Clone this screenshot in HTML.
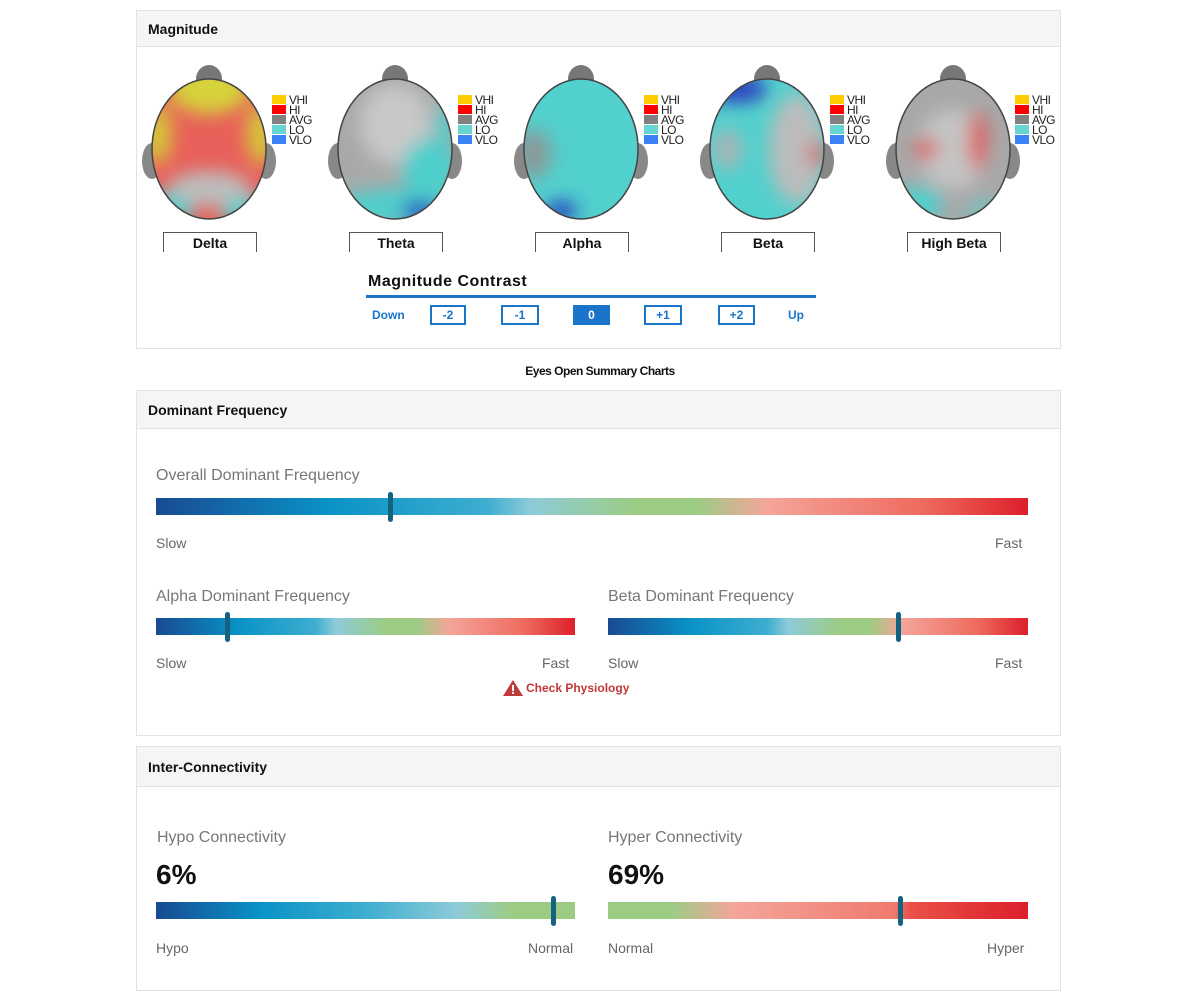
<!DOCTYPE html>
<html><head><meta charset="utf-8"><style>
body{margin:0;width:1200px;height:1000px;background:#fff;font-family:"Liberation Sans",sans-serif;position:relative;overflow:hidden}
.a{position:absolute}
.panel{position:absolute;left:136px;width:923px;border:1px solid #dfe3e6;background:#fff}
.hd{position:absolute;left:0;top:0;right:0;background:#f3f5f6;border-bottom:1px solid #dfe3e6;font-weight:bold;font-size:14px;color:#111;padding-left:11px;box-sizing:border-box}
.lbl{position:absolute;font-size:16px;color:#777}
.sm{position:absolute;font-size:14px;color:#666}
.bar{position:absolute;height:17px}
.g1{background:linear-gradient(90deg,#194a92 0%,#0993c6 20%,#3eaed0 38%,#8ecbd8 43%,#9ccc84 55%,#9ccc84 62%,#f4a59a 70%,#ef6a5e 88%,#dc1f2b 100%)}
.mk{position:absolute;width:5px;height:30px;background:#13627f;border-radius:3px}
.btn{position:absolute;top:305px;height:16px;border:2px solid #1a74c9;color:#1a74c9;font-size:12px;font-weight:bold;text-align:center;line-height:16px}
.hl{position:absolute;top:232px;height:19px;border:1px solid #555;border-bottom:none;font-weight:bold;font-size:14px;text-align:center;line-height:20px;color:#111}
.leg{position:absolute;font-size:12px;line-height:10px;color:#222;letter-spacing:-0.5px}
.leg div{height:10px;position:relative;padding-left:17px}
.leg span{position:absolute;left:0;top:0;width:14px;height:9px}
</style></head><body>
<div class="panel" style="top:10px;height:337px">
<div class="hd" style="height:36px;line-height:36px">Magnitude</div>
</div>
<svg class="a" style="left:0;top:0" width="1200" height="260">
<defs>
<filter id="b" x="-50%" y="-50%" width="200%" height="200%"><feGaussianBlur stdDeviation="9"/></filter>
<clipPath id="hc"><ellipse cx="0" cy="0" rx="57" ry="70"/></clipPath>
<g id="base"><ellipse cx="0" cy="-70" rx="13" ry="14" fill="#777"/><ellipse cx="-57" cy="12" rx="10" ry="18" fill="#888"/><ellipse cx="57" cy="12" rx="10" ry="18" fill="#888"/></g>
</defs>
<g transform="translate(209,149)"><use href="#base"/><g clip-path="url(#hc)"><rect x="-70" y="-80" width="140" height="160" fill="#e8605a"/><g filter="url(#b)"><ellipse cx="0" cy="-60" rx="40" ry="25" fill="#d6d33a"/><ellipse cx="-52" cy="-15" rx="15" ry="30" fill="#d6c53a"/><ellipse cx="52" cy="-15" rx="15" ry="30" fill="#d6c53a"/><ellipse cx="0" cy="40" rx="42" ry="18" fill="#bdbdbd"/><ellipse cx="-42" cy="62" rx="25" ry="18" fill="#4fcfcc"/><ellipse cx="38" cy="64" rx="25" ry="16" fill="#4fcfcc"/></g></g><ellipse cx="0" cy="0" rx="57" ry="70" fill="none" stroke="#444" stroke-width="1.5"/></g>
<g transform="translate(395,149)"><use href="#base"/><g clip-path="url(#hc)"><rect x="-70" y="-80" width="140" height="160" fill="#a9a9a9"/><g filter="url(#b)"><ellipse cx="0" cy="-25" rx="35" ry="40" fill="#c8c8c8"/><ellipse cx="35" cy="20" rx="28" ry="30" fill="#4dcfcc"/><ellipse cx="50" cy="-25" rx="10" ry="20" fill="#4dcfcc"/><ellipse cx="0" cy="58" rx="60" ry="18" fill="#4dcfcc"/><ellipse cx="25" cy="62" rx="18" ry="10" fill="#2233c0"/></g></g><ellipse cx="0" cy="0" rx="57" ry="70" fill="none" stroke="#444" stroke-width="1.5"/></g>
<g transform="translate(581,149)"><use href="#base"/><g clip-path="url(#hc)"><rect x="-70" y="-80" width="140" height="160" fill="#52d0cd"/><g filter="url(#b)"><ellipse cx="-48" cy="5" rx="18" ry="25" fill="#8a9a9a"/><ellipse cx="-20" cy="62" rx="16" ry="9" fill="#2233c0"/></g></g><ellipse cx="0" cy="0" rx="57" ry="70" fill="none" stroke="#444" stroke-width="1.5"/></g>
<g transform="translate(767,149)"><use href="#base"/><g clip-path="url(#hc)"><rect x="-70" y="-80" width="140" height="160" fill="#52d0cd"/><g filter="url(#b)"><ellipse cx="-30" cy="-60" rx="30" ry="14" fill="#2a3ec0"/><ellipse cx="30" cy="0" rx="28" ry="55" fill="#bcbcbc"/><ellipse cx="-40" cy="0" rx="15" ry="20" fill="#a8b5b5"/><ellipse cx="50" cy="5" rx="8" ry="12" fill="#e04848"/></g></g><ellipse cx="0" cy="0" rx="57" ry="70" fill="none" stroke="#444" stroke-width="1.5"/></g>
<g transform="translate(953,149)"><use href="#base"/><g clip-path="url(#hc)"><rect x="-70" y="-80" width="140" height="160" fill="#a8a8a8"/><g filter="url(#b)"><ellipse cx="0" cy="0" rx="35" ry="40" fill="#c4c4c4"/><ellipse cx="-27" cy="0" rx="12" ry="10" fill="#e05555"/><ellipse cx="25" cy="-8" rx="9" ry="30" fill="#e05555"/><ellipse cx="-35" cy="55" rx="25" ry="18" fill="#4fcfcc"/><ellipse cx="35" cy="62" rx="22" ry="10" fill="#6cc8c6"/></g></g><ellipse cx="0" cy="0" rx="57" ry="70" fill="none" stroke="#444" stroke-width="1.5"/></g>
</svg>
<div class="leg" style="left:272px;top:95px"><div><span style="background:#fc0"></span>VHI</div><div><span style="background:#f00"></span>HI</div><div><span style="background:#808080"></span>AVG</div><div><span style="background:#66d4d0"></span>LO</div><div><span style="background:#3b82f6"></span>VLO</div></div>
<div class="leg" style="left:458px;top:95px"><div><span style="background:#fc0"></span>VHI</div><div><span style="background:#f00"></span>HI</div><div><span style="background:#808080"></span>AVG</div><div><span style="background:#66d4d0"></span>LO</div><div><span style="background:#3b82f6"></span>VLO</div></div>
<div class="leg" style="left:644px;top:95px"><div><span style="background:#fc0"></span>VHI</div><div><span style="background:#f00"></span>HI</div><div><span style="background:#808080"></span>AVG</div><div><span style="background:#66d4d0"></span>LO</div><div><span style="background:#3b82f6"></span>VLO</div></div>
<div class="leg" style="left:830px;top:95px"><div><span style="background:#fc0"></span>VHI</div><div><span style="background:#f00"></span>HI</div><div><span style="background:#808080"></span>AVG</div><div><span style="background:#66d4d0"></span>LO</div><div><span style="background:#3b82f6"></span>VLO</div></div>
<div class="leg" style="left:1015px;top:95px"><div><span style="background:#fc0"></span>VHI</div><div><span style="background:#f00"></span>HI</div><div><span style="background:#808080"></span>AVG</div><div><span style="background:#66d4d0"></span>LO</div><div><span style="background:#3b82f6"></span>VLO</div></div>
<div class="hl" style="left:163px;width:92px">Delta</div>
<div class="hl" style="left:349px;width:92px">Theta</div>
<div class="hl" style="left:535px;width:92px">Alpha</div>
<div class="hl" style="left:721px;width:92px">Beta</div>
<div class="hl" style="left:907px;width:92px">High Beta</div>
<div class="a" style="left:368px;top:273px;font-size:16px;font-weight:bold;color:#111;letter-spacing:0.5px">Magnitude Contrast</div>
<div class="a" style="left:366px;top:295px;width:450px;height:3px;background:#1a74c9"></div>
<div class="a" style="left:372px;top:308px;font-size:12px;font-weight:bold;color:#1a74c9">Down</div>
<div class="a" style="left:788px;top:308px;font-size:12px;font-weight:bold;color:#1a74c9">Up</div>
<div class="btn" style="left:430px;width:32px">-2</div>
<div class="btn" style="left:501px;width:34px">-1</div>
<div class="btn" style="left:573px;width:33px;background:#1a74c9;color:#fff">0</div>
<div class="btn" style="left:644px;width:34px">+1</div>
<div class="btn" style="left:718px;width:33px">+2</div>
<div class="a" style="left:0;width:1200px;top:364px;text-align:center;font-size:12px;font-weight:bold;letter-spacing:-0.5px;color:#111">Eyes Open Summary Charts</div>

<div class="panel" style="top:390px;height:344px"><div class="hd" style="height:38px;line-height:38px">Dominant Frequency</div></div>
<div class="lbl" style="left:156px;top:467px">Overall Dominant Frequency</div>
<div class="bar g1" style="left:156px;top:498px;width:872px"></div><div class="mk" style="left:388px;top:492px"></div>
<div class="sm" style="left:156px;top:535px">Slow</div><div class="sm" style="left:995px;top:535px">Fast</div>
<div class="lbl" style="left:156px;top:588px">Alpha Dominant Frequency</div>
<div class="bar g1" style="left:156px;top:618px;width:419px"></div><div class="mk" style="left:225px;top:612px"></div>
<div class="sm" style="left:156px;top:655px">Slow</div><div class="sm" style="left:542px;top:655px">Fast</div>
<div class="lbl" style="left:608px;top:588px">Beta Dominant Frequency</div>
<div class="bar g1" style="left:608px;top:618px;width:420px"></div><div class="mk" style="left:896px;top:612px"></div>
<div class="sm" style="left:608px;top:655px">Slow</div><div class="sm" style="left:995px;top:655px">Fast</div>
<svg class="a" style="left:502px;top:679px" width="22" height="18"><polygon points="11,1 21,17 1,17" fill="#c0393b"/><rect x="10" y="6" width="2" height="6" fill="#fff"/><rect x="10" y="13" width="2" height="2" fill="#fff"/></svg>
<div class="a" style="left:526px;top:681px;font-size:12px;font-weight:bold;color:#c0393b">Check Physiology</div>

<div class="panel" style="top:746px;height:243px"><div class="hd" style="height:40px;line-height:40px">Inter-Connectivity</div></div>
<div class="lbl" style="left:157px;top:829px">Hypo Connectivity</div>
<div class="a" style="left:156px;top:859px;font-size:28px;font-weight:bold;color:#111">6%</div>
<div class="bar" style="left:156px;top:902px;width:419px;background:linear-gradient(90deg,#194a92 0%,#0993c6 25%,#3eaed0 50%,#8ecbd8 72%,#9ccc84 85%,#9ccc84 100%)"></div><div class="mk" style="left:551px;top:896px"></div>
<div class="sm" style="left:156px;top:940px">Hypo</div><div class="sm" style="left:528px;top:940px">Normal</div>
<div class="lbl" style="left:608px;top:829px">Hyper Connectivity</div>
<div class="a" style="left:608px;top:859px;font-size:28px;font-weight:bold;color:#111">69%</div>
<div class="bar" style="left:608px;top:902px;width:420px;background:linear-gradient(90deg,#9ccc84 0%,#9ccc84 15%,#f4a59a 30%,#f07a6e 68%,#ea5048 72%,#dc1f2b 100%)"></div><div class="mk" style="left:898px;top:896px"></div>
<div class="sm" style="left:608px;top:940px">Normal</div><div class="sm" style="left:987px;top:940px">Hyper</div>
</body></html>
